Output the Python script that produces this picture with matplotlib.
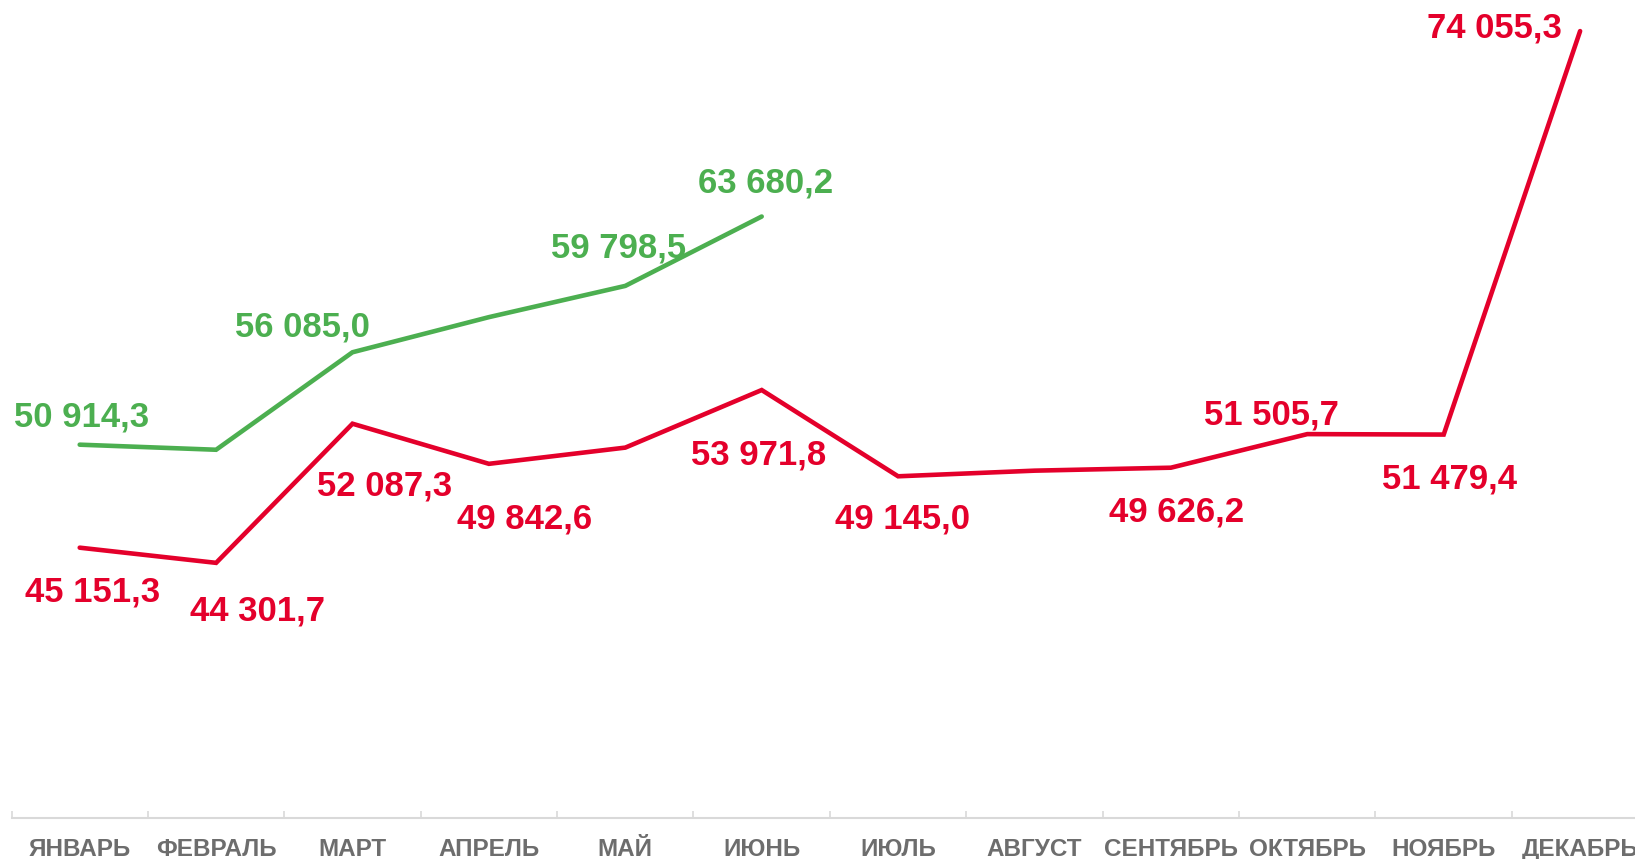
import numpy as np
import matplotlib
matplotlib.use('Agg')
import matplotlib.pyplot as plt

plt.rcParams['font.family'] = ['Liberation Sans', 'DejaVu Sans']

months = ['ЯНВАРЬ', 'ФЕВРАЛЬ', 'МАРТ', 'АПРЕЛЬ', 'МАЙ', 'ИЮНЬ',
          'ИЮЛЬ', 'АВГУСТ', 'СЕНТЯБРЬ', 'ОКТЯБРЬ', 'НОЯБРЬ', 'ДЕКАБРЬ']

# current year (green), only first half available
green_values = [50914.3, 50630.0, 56085.0, 58050.0, 59798.5, 63680.2]
green_labeled = [True, False, True, False, True, True]

# previous year (red)
red_values = [45151.3, 44301.7, 52087.3, 49842.6, 50750.0, 53971.8,
              49145.0, 49460.0, 49626.2, 51505.7, 51479.4, 74055.3]
red_labeled = [True, True, True, True, False, True,
               True, False, True, True, True, True]

GREEN = '#4caf50'
RED = '#e4002b'

# label offsets in points (dx, dy) - hand tuned to the reference
green_offsets = [(1.5, 20), None, (-36, 18), None, (-4.5, 27), (3, 24)]
red_offsets = [(9, -32), (30, -35), (23, -45), (26, -40), None, (-2, -47),
               (3, -31), None, (4, -32), (-26, 14), (4, -32), (-62, 2)]


def fmt(v):
    s = f'{v:,.1f}'
    return s.replace(',', ' ').replace('.', ',')


fig = plt.figure(figsize=(16.35, 8.59), dpi=100)
ax = fig.add_axes([11.5 / 1635, 0.0472, 1.0011, 0.9529])

x = np.arange(len(months))
ax.plot(x[:len(green_values)], green_values, color=GREEN, lw=3.3,
        solid_capstyle='round', solid_joinstyle='miter', zorder=3)
ax.plot(x, red_values, color=RED, lw=3.3,
        solid_capstyle='round', solid_joinstyle='miter', zorder=3)

for i, v in enumerate(green_values):
    if green_labeled[i]:
        ax.annotate(fmt(v), (x[i], v), xytext=green_offsets[i], textcoords='offset points',
                    ha='center', va='center', color=GREEN, fontsize=25, fontweight='bold')

for i, v in enumerate(red_values):
    if red_labeled[i]:
        ax.annotate(fmt(v), (x[i], v), xytext=red_offsets[i], textcoords='offset points',
                    ha='center', va='center', color=RED, fontsize=25, fontweight='bold')

ax.set_xlim(-0.5, len(months) - 0.5)
ax.set_ylim(30000, 75800)

for side in ['top', 'right', 'left']:
    ax.spines[side].set_visible(False)
ax.spines['bottom'].set_color('#d9d9d9')
ax.spines['bottom'].set_linewidth(1.5)
ax.set_yticks([])

ax.set_xticks(x)
ax.set_xticklabels(months, fontsize=17.5, fontweight='bold', color='#6d6d6d')
ax.tick_params(axis='x', which='major', length=0, pad=14)
ax.set_xticks(np.arange(-0.5, len(months), 1.0), minor=True)
ax.tick_params(axis='x', which='minor', direction='in', length=5, width=1.2, color='#d9d9d9')

fig.savefig('out.png', dpi=100)
